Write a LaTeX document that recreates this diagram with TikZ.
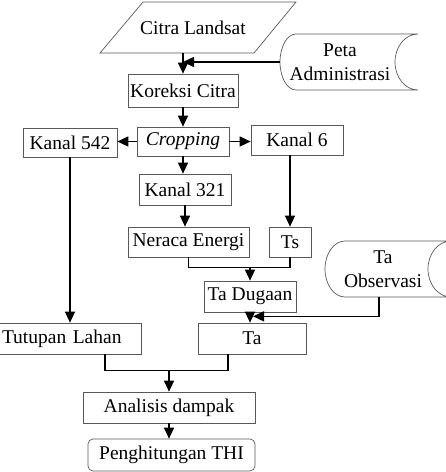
\documentclass[tikz,border=0pt]{standalone}
\usepackage{fontspec}
\setmainfont{Liberation Serif}
\usetikzlibrary{arrows.meta}
\tikzset{
>={Triangle[length=11pt,width=10pt]}, % filled arrow heads
flow/.style={->, line width=1.4pt}, % arrows between the steps
merge/.style={line width=1.4pt}, % plain lines that merge two steps
txt/.style={inner sep=0pt, align=center, font=\fontsize{19.5}{24}\selectfont}, % text of every step
box/.style={txt, draw=gray!70!black, line width=0.7pt}, % process boxes
outline/.style={draw=gray!70!black, line width=0.7pt}, % input and data shapes
}
\begin{document}
\begin{tikzpicture}[x=1pt, y=-1pt]
    \useasboundingbox (0,0) rectangle (446,472);
    \node[txt, minimum height=51pt] (citra) at (193,27.5) {Citra Landsat};
    \draw[outline] (143,2) -- (296,2) -- (254,53) -- (100,53) -- cycle;
    \node[txt, minimum width=120pt, minimum height=56pt] (peta) at (340,62) {Peta\\Administrasi};
    \draw[outline] (296,34) arc[start angle=270, end angle=90, x radius=16, y radius=28]
        -- (418,90) arc[start angle=90, end angle=270, x radius=23, y radius=28] -- cycle;
    \node[box, minimum width=110pt, minimum height=33pt] (koreksi) at (183,90.5) {Koreksi Citra};
    \node[box, minimum width=92pt, minimum height=29pt] (crop) at (183,141.5) {\textit{Cropping}};
    \node[box, minimum width=94pt, minimum height=29pt] (k542) at (70,142.5) {Kanal 542};
    \node[box, minimum width=92pt, minimum height=30pt] (k6) at (297,140) {Kanal 6};
    \node[box, minimum width=92pt, minimum height=31pt] (k321) at (185,189.5) {Kanal 321};
    \node[box, minimum width=121pt, minimum height=30pt] (neraca) at (188.5,242) {Neraca Energi};
    \node[box, minimum width=42pt, minimum height=30pt] (ts) at (290,242) {Ts};
    \node[txt, minimum height=56pt] (taobs) at (383,269) {Ta\\Observasi};
    \draw[outline] (345,241) arc[start angle=270, end angle=90, x radius=20, y radius=28]
        -- (451,297) arc[start angle=90, end angle=270, x radius=23, y radius=28] -- cycle;
    \node[box, minimum width=92pt, minimum height=31pt] (tadug) at (250,296.5) {Ta Dugaan};
    \node[box, minimum width=108pt, minimum height=31pt] (ta) at (252,338.5) {Ta};
    \node[box, inner xsep=3pt, text width=136pt, align=left, minimum height=31pt] (tutup) at (70,338.5) {Tutupan Lahan};
    \node[box, minimum width=172pt, minimum height=31pt] (analisis) at (169,407.5) {Analisis dampak};
    \node[box, rounded corners=5pt, minimum width=167pt, minimum height=32pt] (thi) at (171.5,455) {Penghitungan THI};

    \draw[flow] (citra.south -| koreksi) -- (koreksi.north);
    \draw[flow] (peta.west) -- (peta.west -| koreksi.north);
    \draw[flow] (koreksi) -- (crop);
    \draw[flow] (crop.west) -- (crop.west -| k542.east);
    \draw[flow] (crop.east) -- (crop.east -| k6.west);
    \draw[flow] (crop.south) -- (crop.south |- k321.north);
    \draw[flow] (k321.south) -- (k321.south |- neraca.north);
    \draw[flow] (k6.south -| ts) -- (ts.north);
    \path (neraca.south) ++(0,10) coordinate (j1);
    \draw[merge] (neraca.south) -- (j1) -| (ts.south);
    \draw[flow] (j1 -| tadug) -- (tadug.north);
    \path (tadug.south) ++(3,4) coordinate (j3);
    \draw[flow] ([xshift=-4pt]taobs.south) |- (j3);
    \draw[flow] (tadug.south) -- (tadug.south |- ta.north);
    \draw[flow] (k542.south) -- (k542.south |- tutup.north);
    \path ([xshift=35pt]tutup.south) ++(0,16) coordinate (j2);
    \draw[merge] ([xshift=35pt]tutup.south) -- (j2) -| ([xshift=-24pt]ta.south);
    \draw[flow] (j2 -| analisis) -- (analisis.north);
    \draw[flow] (analisis.south) -- (analisis.south |- thi.north);
\end{tikzpicture}
\end{document}
